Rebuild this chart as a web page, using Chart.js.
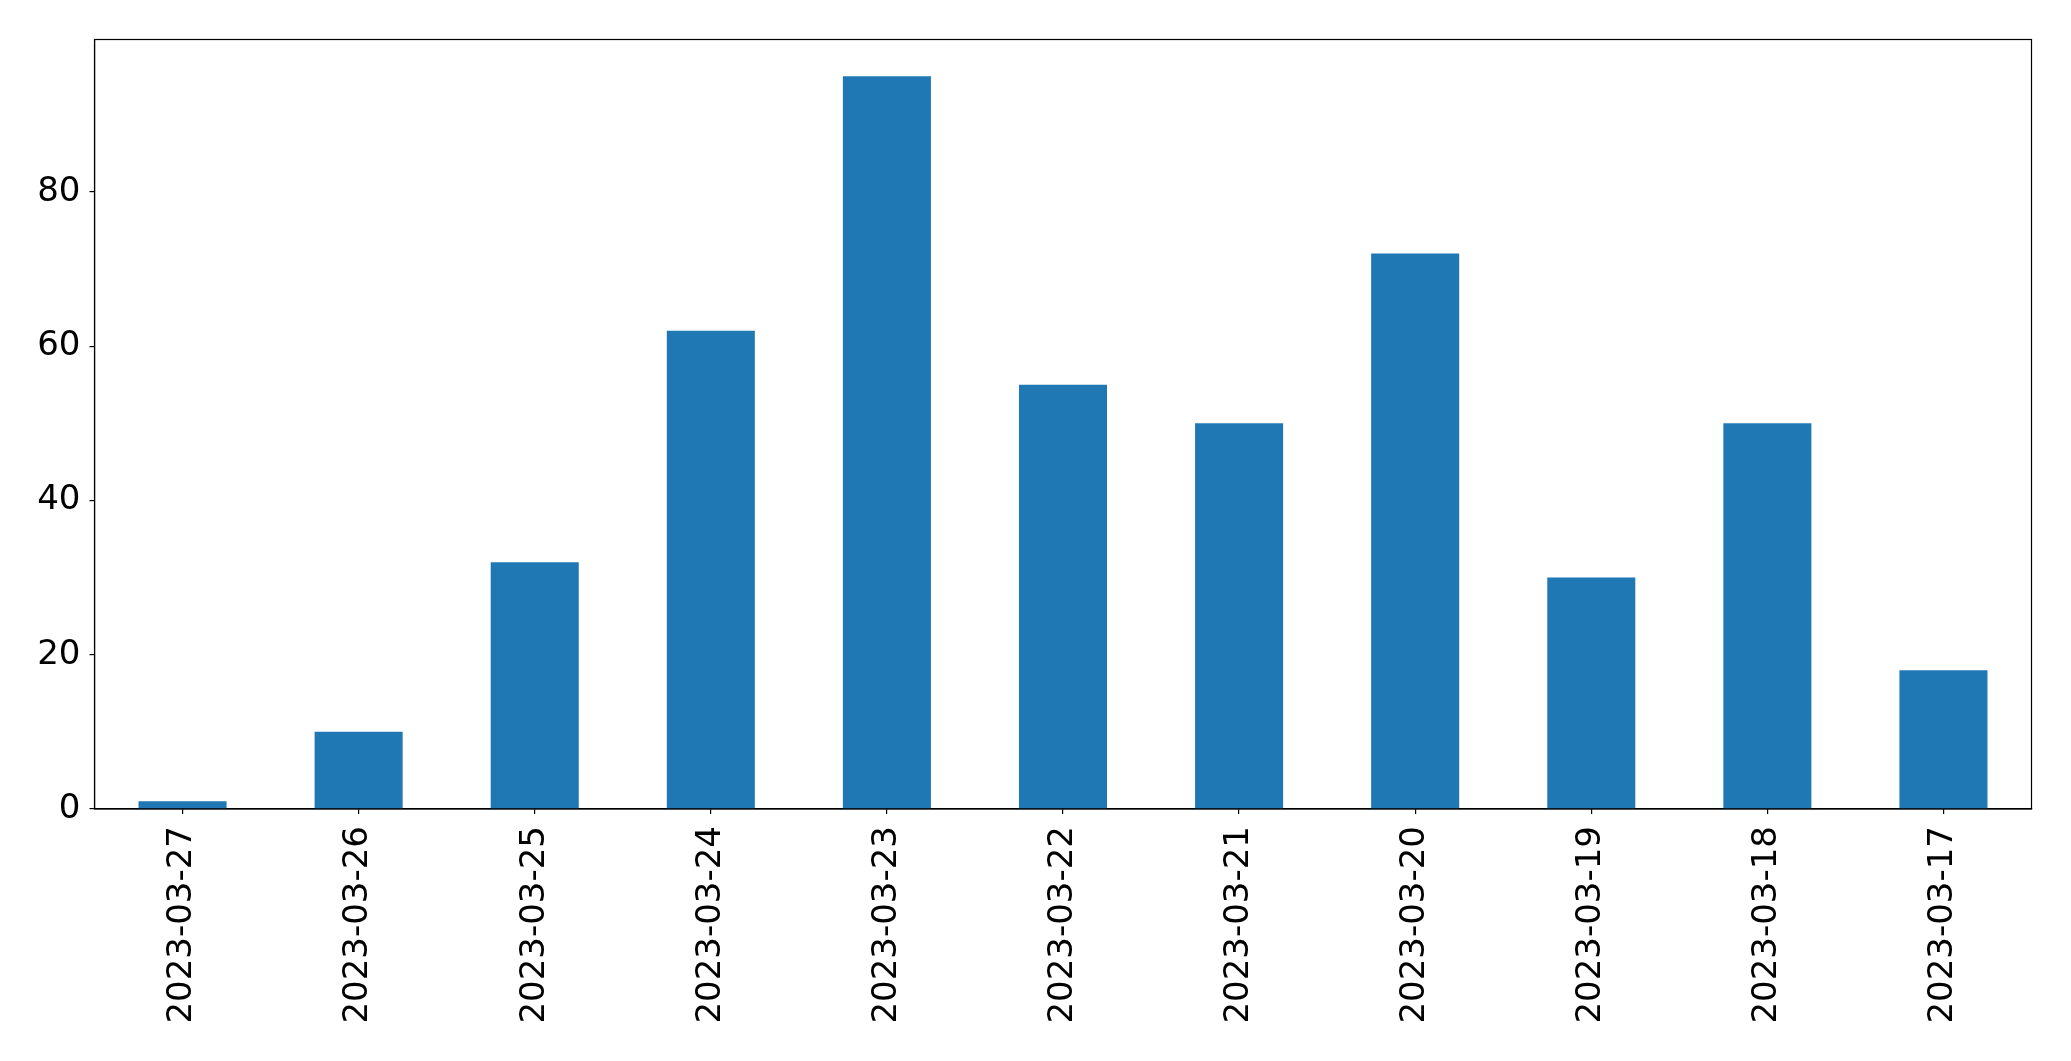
<!DOCTYPE html>
<html>
<head>
<meta charset="utf-8">
<script src="https://cdn.jsdelivr.net/npm/chart.js@4"></script>
<style>
html,body{margin:0;padding:0;background:#fff;}
canvas{display:block;}
</style>
</head>
<body>
<canvas id="c" width="2071" height="1061"></canvas>
<script>
const categories = ["2023-03-27","2023-03-26","2023-03-25","2023-03-24","2023-03-23","2023-03-22","2023-03-21","2023-03-20","2023-03-19","2023-03-18","2023-03-17"];
const counts = [1, 10, 32, 62, 95, 55, 50, 72, 30, 50, 18];
const yTicks = [0, 20, 40, 60, 80];

const framePlugin = {
  id: 'frame',
  afterDatasetsDraw(chart) {
    const a = chart.chartArea, ctx = chart.ctx;
    ctx.save();
    ctx.strokeStyle = '#000';
    ctx.lineWidth = 1.2;
    ctx.strokeRect(a.left, a.top, a.right - a.left, a.bottom - a.top);
    ctx.restore();
  }
};

new Chart(document.getElementById('c'), {
  type: 'bar',
  data: {
    labels: categories,
    datasets: [{
      data: counts,
      backgroundColor: '#1f77b4',
      borderWidth: 0,
      barPercentage: 0.5,
      categoryPercentage: 1.0
    }]
  },
  options: {
    responsive: false,
    animation: false,
    layout: { padding: { top: 39.5, right: 39.5, left: 0, bottom: 0 } },
    plugins: { legend: { display: false }, tooltip: { enabled: false } },
    scales: {
      x: {
        offset: true,
        grid: { offset: false, drawOnChartArea: false, drawTicks: true, tickLength: 5, color: '#000', lineWidth: 1.2 },
        border: { display: true, color: '#000', width: 1.2 },
        ticks: {
          color: '#000',
          font: { family: 'DejaVu Sans', size: 34 },
          minRotation: 90, maxRotation: 90,
          padding: 12,
          autoSkip: false
        },
        afterFit(scale) { scale.height = 252; }
      },
      y: {
        min: 0,
        max: 99.75,
        grid: { drawOnChartArea: false, drawTicks: true, tickLength: 5, color: '#000', lineWidth: 1.2 },
        border: { display: true, color: '#000', width: 1.2 },
        afterBuildTicks(scale) { scale.ticks = yTicks.map(v => ({ value: v })); },
        ticks: {
          color: '#000',
          font: { family: 'DejaVu Sans', size: 34 },
          padding: 9
        },
        afterFit(scale) { scale.width = 94.5; }
      }
    }
  },
  plugins: [framePlugin]
});
</script>
</body>
</html>
